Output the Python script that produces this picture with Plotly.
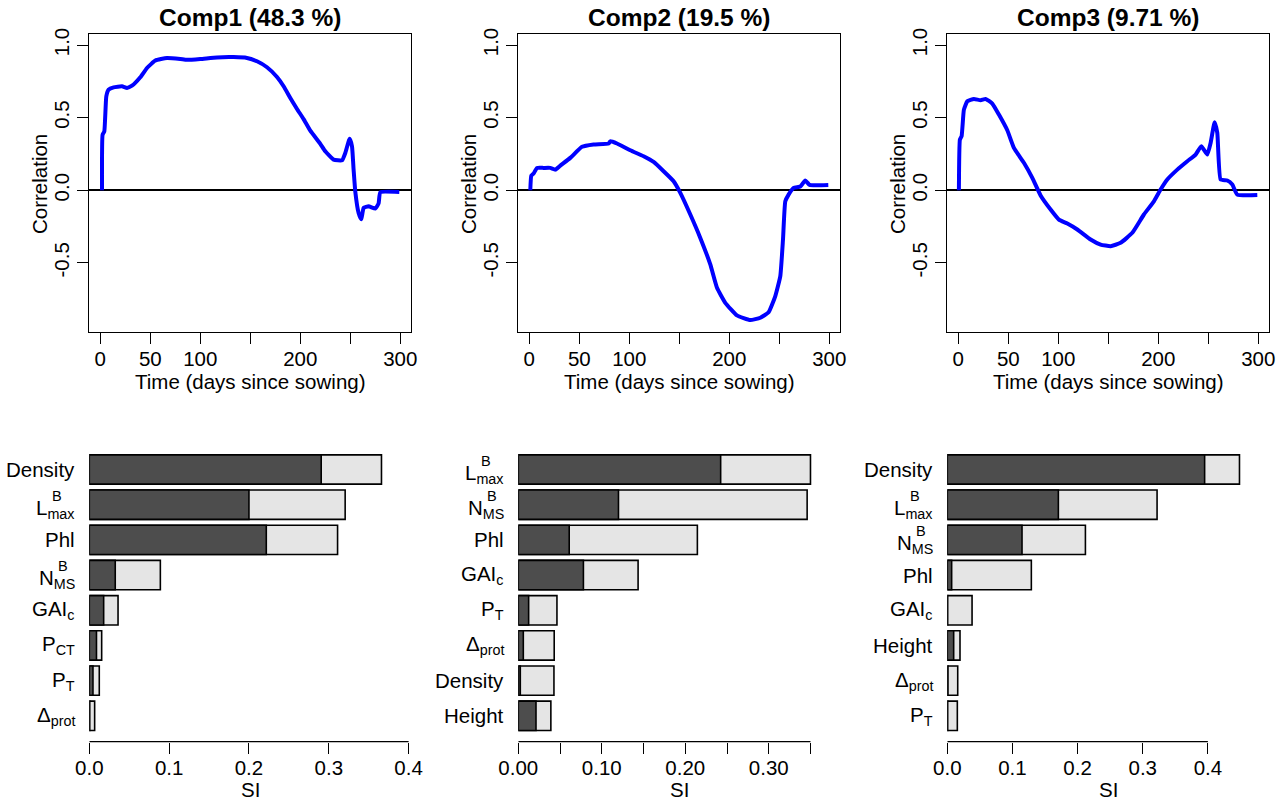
import plotly.graph_objects as go

W, H = 1287, 800
FONT = "Liberation Sans, Arial, Helvetica, sans-serif"

# ---------------- data ----------------
titles = ["Comp1 (48.3 %)", "Comp2 (19.5 %)", "Comp3 (9.71 %)"]

comp1_day = [1.7, 2.3, 4, 6, 8.3, 13.3, 21.7, 26.7, 31.7, 40, 46.7, 55, 66.7, 80, 86.7,
             100, 116.7, 133.3, 146.7, 156.7, 166.7, 176.7, 183.3, 190, 196.7, 203.3,
             210, 220, 225, 233.3, 241.7, 245, 249.3, 251.7, 253.3, 255, 258.3, 261,
             263.3, 268.3, 275, 278.3, 280, 299]
comp1_cor = [0, 0.383, 0.405, 0.647, 0.693, 0.709, 0.716, 0.705, 0.72, 0.778, 0.842, 0.893,
             0.911, 0.904, 0.898, 0.904, 0.915, 0.917, 0.911, 0.888, 0.847, 0.78, 0.716,
             0.636, 0.56, 0.49, 0.41, 0.32, 0.268, 0.211, 0.206, 0.257, 0.354, 0.303,
             0.142, -0.01, -0.156, -0.2, -0.121, -0.11, -0.126, -0.09, -0.014, -0.012]

comp2_day = [1, 2, 4.3, 7.7, 14.3, 21, 26, 31, 41, 52.7, 64.3, 79.3, 81, 87.7, 101, 114.3,
             124.3, 134.3, 144.3, 151, 161, 171, 181, 187.7, 196, 207.7, 221, 231, 239.3,
             246, 251, 253.7, 256, 259.3, 264.3, 271, 276, 280.3, 299]
comp2_cor = [0, 0.101, 0.115, 0.154, 0.154, 0.154, 0.142, 0.17, 0.223, 0.299, 0.315, 0.322,
             0.337, 0.322, 0.275, 0.234, 0.195, 0.131, 0.062, -0.018, -0.167, -0.328,
             -0.511, -0.672, -0.775, -0.862, -0.894, -0.878, -0.84, -0.729, -0.591,
             -0.339, -0.076, -0.03, 0.016, 0.026, 0.067, 0.037, 0.037]

comp3_day = [0.6, 1.6, 3.3, 5.6, 9, 15.6, 22.3, 27.3, 34, 40.6, 49, 55.6, 65.6, 74, 82.3,
             92.3, 100.6, 109, 119, 132.3, 142.3, 152.3, 162.3, 174, 185.6, 195.6, 202.3,
             209, 219, 229, 237.3, 243, 249, 252.3, 256.3, 259, 262.3, 269, 274, 279, 299]
comp3_cor = [0, 0.349, 0.372, 0.555, 0.613, 0.629, 0.62, 0.629, 0.597, 0.521, 0.413, 0.292,
             0.189, 0.085, -0.036, -0.133, -0.202, -0.229, -0.27, -0.339, -0.374, -0.385,
             -0.362, -0.293, -0.167, -0.076, 0.005, 0.074, 0.142, 0.2, 0.246, 0.303,
             0.246, 0.326, 0.468, 0.395, 0.074, 0.067, 0.039, -0.03, -0.033]

time_tickvals = [0, 50, 100, 150, 200, 250, 300]
time_ticktext = ["0", "50", "100", "", "200", "", "300"]
cor_tickvals = [-0.5, 0, 0.5, 1.0]
cor_ticktext = ["-0.5", "0.0", "0.5", "1.0"]

# sensitivity indices (first order = dark, total = light)
si1_labels = ["Density", "Lmax", "Phl", "NMS", "GAIc", "PCT", "PT", "Dprot"]
si1_first = [0.2905, 0.200, 0.2217, 0.0325, 0.018, 0.009, 0.0046, 0.0005]
si1_total = [0.366, 0.3205, 0.311, 0.089, 0.036, 0.0155, 0.0125, 0.0067]

si2_labels = ["Lmax", "NMS", "Phl", "GAIc", "PT", "Dprot", "Density", "Height"]
si2_first = [0.2424, 0.120, 0.061, 0.078, 0.0124, 0.006, 0.0024, 0.0212]
si2_total = [0.350, 0.346, 0.2145, 0.1435, 0.0463, 0.043, 0.0427, 0.039]

si3_labels = ["Density", "Lmax", "NMS", "Phl", "GAIc", "Height", "Dprot", "PT"]
si3_first = [0.395, 0.1705, 0.1147, 0.0067, 0.0005, 0.0098, 0.001, 0.0005]
si3_total = [0.4485, 0.322, 0.212, 0.129, 0.038, 0.0195, 0.016, 0.0154]

si_tickvals = [[0, 0.1, 0.2, 0.3, 0.4],
               [0, 0.05, 0.10, 0.15, 0.20, 0.25, 0.30, 0.35],
               [0, 0.1, 0.2, 0.3, 0.4]]
si_ticktext = [["0.0", "0.1", "0.2", "0.3", "0.4"],
               ["0.00", "", "0.10", "", "0.20", "", "0.30", ""],
               ["0.0", "0.1", "0.2", "0.3", "0.4"]]

label_html = {
    "Density": "Density", "Phl": "Phl", "Height": "Height",
    "Lmax": "L<sub>max</sub>", "NMS": "N<sub>MS</sub>",
    "GAIc": "GAI<sub>c</sub>", "PCT": "P<sub>CT</sub>", "PT": "P<sub>T</sub>",
    "Dprot": "Δ<sub>prot</sub>",
}
# stacked superscript "B" above subscript start (width of subscript in px)
label_sup = {"Lmax": 27.0, "NMS": 21.5}

# ---------------- style / layout ----------------
LINE_BLUE = "#0000FF"
DARK = "#4D4D4D"
LIGHT = "#E5E5E5"
PANEL_W = 429
PLOT_L = 89.3
PLOT_W = 321.4
TOP = (34, 332)
BOT = (448, 741.7)
FS = 20.5


def xdom(k):
    return [(PLOT_L + PANEL_W * k) / W, (PLOT_L + PANEL_W * k + PLOT_W) / W]


def ydom(t, b):
    return [1 - b / H, 1 - t / H]


fig = go.Figure()
curves = [(comp1_day, comp1_cor), (comp2_day, comp2_cor), (comp3_day, comp3_cor)]
bars = [(si1_labels, si1_first, si1_total), (si2_labels, si2_first, si2_total),
        (si3_labels, si3_first, si3_total)]

annotations = []
shapes = []
axis_common = dict(showgrid=False, ticks="outside", ticklen=11, tickwidth=1.3,
                   tickcolor="black", automargin=False,
                   tickfont=dict(family=FONT, size=FS, color="black"))

for k in range(3):
    n = k + 1
    xa = "x" if n == 1 else f"x{n}"
    ya = "y" if n == 1 else f"y{n}"
    d, c = curves[k]
    fig.add_trace(go.Scatter(x=d, y=c, mode="lines", xaxis=xa, yaxis=ya,
                             line=dict(color=LINE_BLUE, width=4, shape="spline", smoothing=0.4),
                             showlegend=False, hoverinfo="skip"))
    fig.layout[f"xaxis{'' if n == 1 else n}"] = dict(
        domain=xdom(k), range=[-11, 310.4], anchor=ya, tickvals=time_tickvals,
        ticktext=time_ticktext, showline=True, mirror=True, linecolor="black",
        linewidth=1.3, zeroline=False, ticklabelstandoff=-3, **axis_common)
    fig.layout[f"yaxis{'' if n == 1 else n}"] = dict(
        domain=ydom(*TOP), range=[-0.976, 1.076], anchor=xa, tickvals=cor_tickvals,
        ticktext=cor_ticktext, tickangle=-90, showline=True, mirror=True,
        linecolor="black", linewidth=1.3, zeroline=True, zerolinecolor="black",
        zerolinewidth=1.5, **axis_common)
    cx = (PLOT_L + PANEL_W * k + PLOT_W / 2) / W
    annotations.append(dict(text=f"<b>{titles[k]}</b>", x=cx, y=1 - 17.5 / H, xref="paper",
                            yref="paper", xanchor="center", yanchor="middle",
                            showarrow=False, font=dict(family=FONT, size=24.5, color="black")))
    annotations.append(dict(text="Time (days since sowing)", x=cx, y=1 - 381.5 / H,
                            xref="paper", yref="paper", xanchor="center", yanchor="middle",
                            showarrow=False, font=dict(family=FONT, size=FS, color="black")))
    annotations.append(dict(text="Correlation", x=(39 + PANEL_W * k) / W, y=1 - 184 / H,
                            xref="paper", yref="paper", xanchor="center", yanchor="middle",
                            textangle=-90, showarrow=False,
                            font=dict(family=FONT, size=FS, color="black")))

    # bar panel
    bn = n + 3
    bxa, bya = f"x{bn}", f"y{bn}"
    labs, first, total = bars[k]
    pos = list(range(len(labs)))
    fig.add_trace(go.Bar(y=pos, x=total, orientation="h", xaxis=bxa, yaxis=bya,
                         width=1 / 1.2, marker=dict(color=LIGHT, line=dict(color="black", width=1.6)),
                         showlegend=False, hoverinfo="skip"))
    fig.add_trace(go.Bar(y=pos, x=first, orientation="h", xaxis=bxa, yaxis=bya,
                         width=1 / 1.2, marker=dict(color=DARK, line=dict(color="black", width=1.6)),
                         showlegend=False, hoverinfo="skip"))
    fig.layout[f"xaxis{bn}"] = dict(
        domain=xdom(k), range=[0, 1.1 * max(total)], anchor=bya,
        tickvals=si_tickvals[k], ticktext=si_ticktext[k], showline=False,
        zeroline=False, ticklabelstandoff=-3, **axis_common)
    fig.layout[f"yaxis{bn}"] = dict(
        domain=ydom(*BOT), range=[7.735, -0.611], anchor=bxa, showticklabels=False,
        showgrid=False, zeroline=False, showline=False, ticks="", automargin=False)
    shapes.append(dict(type="line", xref=bxa, yref=f"{bya} domain", x0=0,
                       x1=si_tickvals[k][-1], y0=0, y1=0,
                       line=dict(color="black", width=1.3)))
    annotations.append(dict(text="SI", x=cx, y=1 - 789 / H, xref="paper", yref="paper",
                            xanchor="center", yanchor="middle", showarrow=False,
                            font=dict(family=FONT, size=FS, color="black")))
    for i, lab in enumerate(labs):
        stacked = lab in label_sup
        annotations.append(dict(text=label_html[lab], xref=f"{bxa} domain", x=0,
                                xanchor="right", xshift=-12, yref=bya, y=i,
                                yanchor="middle", yshift=-4 if stacked else 0,
                                showarrow=False,
                                font=dict(family=FONT, size=FS, color="black")))
        if stacked:
            annotations.append(dict(text="B", xref=f"{bxa} domain", x=0, xanchor="left",
                                    xshift=-12 - label_sup[lab], yref=bya, y=i,
                                    yanchor="bottom", yshift=-1, showarrow=False,
                                    font=dict(family=FONT, size=14.5, color="black")))

fig.update_layout(template="none", width=W, height=H, margin=dict(l=0, r=0, t=0, b=0, pad=0),
                  paper_bgcolor="white", plot_bgcolor="white", barmode="overlay",
                  showlegend=False, annotations=annotations, shapes=shapes,
                  font=dict(family=FONT, size=FS, color="black"))

fig.write_html("out.html", config={"displayModeBar": False},
               post_script="document.body.style.margin='0px';"
                           "document.body.style.overflow='hidden';")
